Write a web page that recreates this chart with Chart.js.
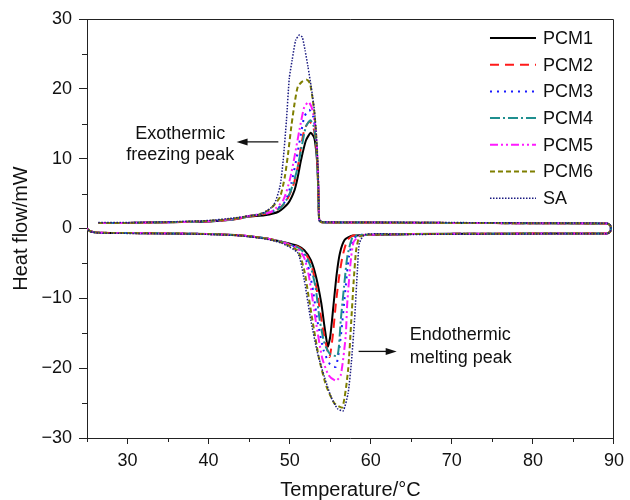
<!DOCTYPE html>
<html>
<head>
<meta charset="utf-8">
<title>DSC curves</title>
<script src="https://cdn.jsdelivr.net/npm/chart.js@4.4.1/dist/chart.umd.min.js"></script>
<style>
    body { margin: 0; background: #fff; }
    #wrap { width: 630px; height: 500px; }
</style>
</head>
<body>
<div id="wrap"><canvas id="myChart" width="630" height="500"></canvas></div>
<script>
// values: [temperature °C, heat flow mW]
var seriesNames = ['PCM1', 'PCM2', 'PCM3', 'PCM4', 'PCM5', 'PCM6', 'SA'];
var xTicks = [30, 40, 50, 60, 70, 80, 90];
var xMinorTicks = [25, 35, 45, 55, 65, 75, 85];
var yTicks = [-30, -20, -10, 0, 10, 20, 30];
var yMinorTicks = [-25, -15, -5, 5, 15, 25];

// cooling runs (upper curves, exothermic freezing peak)
var pcm1Cool = [[26.4, 0.8], [30, 0.8], [35, 0.9], [40, 1.0], [43, 1.3], [45, 1.7], [46.9, 1.9], [48.6, 2.4], [49.8, 3.6], [50.6, 5.5], [51.0, 7.4], [51.4, 9.8], [52.0, 12.6], [52.6, 13.7], [53.05, 12.9], [53.3, 10.7], [53.45, 8.3], [53.57, 3.6], [53.65, 1.2], [54.0, 0.9], [60, 0.85], [70, 0.8], [80, 0.75], [89.1, 0.7], [89.5, 0.5], [89.6, 0.2]];
var pcm2Cool = [[26.4, 0.8], [30, 0.8], [35, 0.9], [40, 1.0], [43, 1.3], [45, 1.7], [48.0, 2.4], [49.4, 3.6], [50.4, 6.0], [51.0, 8.8], [51.4, 11.7], [51.8, 14.1], [52.4, 15.3], [52.9, 14.6], [53.25, 12.0], [53.45, 8.3], [53.57, 3.6], [53.65, 1.2], [54.0, 0.9], [60, 0.85], [70, 0.8], [80, 0.75], [89.1, 0.7], [89.5, 0.5], [89.6, 0.2]];
var pcm3Cool = [[26.4, 0.8], [30, 0.8], [35, 0.9], [40, 1.05], [43, 1.35], [45, 1.8], [47.7, 2.3], [49.4, 3.8], [50.2, 6.45], [50.8, 9.8], [51.4, 13.6], [51.8, 16.0], [52.4, 17.0], [52.9, 16.0], [53.25, 13.0], [53.45, 8.3], [53.57, 3.6], [53.65, 1.2], [54.0, 0.9], [60, 0.85], [70, 0.8], [80, 0.75], [89.1, 0.7], [89.5, 0.5], [89.6, 0.2]];
var pcm4Cool = [[26.4, 0.8], [30, 0.8], [35, 0.9], [40, 1.0], [43, 1.3], [45, 1.75], [48.8, 2.9], [50.0, 5.0], [50.8, 7.9], [51.4, 11.2], [52.0, 14.6], [52.55, 15.5], [53.0, 14.5], [53.3, 11.5], [53.45, 8.3], [53.57, 3.6], [53.65, 1.2], [54.0, 0.9], [60, 0.85], [70, 0.8], [80, 0.75], [89.1, 0.7], [89.5, 0.5], [89.6, 0.2]];
var pcm5Cool = [[26.4, 0.8], [30, 0.8], [35, 0.9], [40, 1.05], [43, 1.35], [45, 1.8], [47.7, 2.4], [49.2, 4.05], [50.0, 6.9], [50.6, 10.3], [51.2, 14.1], [51.8, 17.4], [52.35, 18.1], [52.8, 17.0], [53.25, 13.6], [53.5, 8.3], [53.6, 3.6], [53.65, 1.2], [54.0, 0.9], [60, 0.85], [70, 0.8], [80, 0.75], [89.1, 0.7], [89.5, 0.5], [89.6, 0.2]];
var pcm6Cool = [[26.4, 0.8], [30, 0.8], [35, 0.9], [40, 1.1], [43, 1.4], [45, 1.8], [46.3, 2.0], [47.7, 2.9], [48.8, 4.5], [49.4, 7.4], [49.8, 10.7], [50.2, 14.6], [50.6, 17.9], [51.0, 20.3], [51.5, 21.0], [52.1, 21.3], [52.5, 20.8], [52.85, 18.4], [53.1, 16.0], [53.35, 11.7], [53.5, 7.0], [53.65, 1.2], [54.0, 0.9], [60, 0.85], [70, 0.8], [80, 0.75], [89.1, 0.7], [89.5, 0.5], [89.6, 0.2]];
var saCool = [[26.4, 0.85], [30, 0.85], [35, 0.95], [40, 1.15], [43, 1.5], [45, 1.8], [46.5, 2.1], [48.0, 3.3], [48.8, 6.0], [49.2, 9.8], [49.6, 15.5], [49.95, 21.5], [50.3, 24.1], [50.75, 27.0], [51.2, 27.7], [51.55, 27.4], [51.9, 25.5], [52.25, 23.2], [52.65, 20.3], [53.05, 16.9], [53.3, 13.1], [53.5, 8.3], [53.6, 2.9], [53.65, 1.2], [54.0, 0.95], [60, 0.9], [70, 0.85], [80, 0.8], [89.1, 0.75], [89.5, 0.55], [89.6, 0.2]];

// heating runs (lower curves, endothermic melting peak)
var pcm1Heat = [[25.0, 0.0], [25.4, -0.4], [26.5, -0.6], [30, -0.65], [35, -0.7], [40, -0.8], [44, -1.0], [47, -1.4], [49, -1.9], [51.0, -2.5], [51.8, -3.1], [52.6, -4.5], [53.25, -6.9], [53.9, -10.7], [54.3, -14.1], [54.7, -16.9], [55.0, -15.5], [55.4, -11.0], [55.8, -6.5], [56.2, -3.5], [56.8, -1.6], [57.8, -1.0], [65, -0.8], [75, -0.75], [85, -0.7], [89.1, -0.7], [89.5, -0.5], [89.6, -0.2]];
var pcm2Heat = [[25.0, 0.0], [25.4, -0.4], [26.5, -0.6], [30, -0.65], [35, -0.7], [40, -0.8], [44, -1.0], [47, -1.4], [49, -1.9], [51.0, -2.6], [51.8, -3.3], [52.6, -5.0], [53.2, -7.8], [53.7, -11.5], [54.2, -15.0], [54.9, -18.4], [55.3, -15.5], [55.7, -10.7], [56.1, -6.9], [56.5, -4.1], [57.1, -1.7], [57.9, -1.0], [65, -0.8], [75, -0.75], [85, -0.7], [89.1, -0.7], [89.5, -0.5], [89.6, -0.2]];
var pcm3Heat = [[25.0, 0.0], [25.4, -0.4], [26.5, -0.6], [30, -0.65], [35, -0.7], [40, -0.8], [44, -1.0], [47, -1.4], [49, -1.9], [51.0, -2.8], [51.8, -3.8], [52.4, -6.0], [52.9, -9.0], [53.4, -13.1], [54.2, -17.5], [55.0, -19.5], [55.7, -19.8], [56.3, -15.5], [56.9, -8.4], [57.3, -4.1], [57.9, -1.4], [58.8, -0.9], [65, -0.8], [75, -0.75], [85, -0.7], [89.1, -0.7], [89.5, -0.5], [89.6, -0.2]];
var pcm4Heat = [[25.0, 0.0], [25.4, -0.4], [26.5, -0.6], [30, -0.65], [35, -0.7], [40, -0.8], [44, -1.0], [47, -1.4], [49, -1.9], [51.0, -2.7], [51.8, -3.5], [52.6, -5.5], [53.2, -8.5], [53.7, -13.1], [54.3, -16.5], [55.0, -18.0], [55.9, -18.2], [56.3, -13.1], [56.7, -8.4], [57.1, -4.1], [57.7, -1.4], [58.5, -0.95], [65, -0.8], [75, -0.75], [85, -0.7], [89.1, -0.7], [89.5, -0.5], [89.6, -0.2]];
var pcm5Heat = [[25.0, 0.0], [25.4, -0.4], [26.5, -0.6], [30, -0.65], [35, -0.7], [40, -0.8], [44, -1.0], [47, -1.4], [49, -1.9], [51.0, -2.9], [51.8, -4.2], [52.4, -7.0], [53.2, -13.1], [54.0, -18.5], [54.8, -21.0], [55.7, -21.8], [56.3, -21.0], [56.9, -15.5], [57.1, -10.7], [57.5, -5.0], [57.9, -1.9], [58.8, -1.0], [65, -0.8], [75, -0.75], [85, -0.7], [89.1, -0.7], [89.5, -0.5], [89.6, -0.2]];
var pcm6Heat = [[25.0, 0.0], [25.4, -0.4], [26.5, -0.6], [30, -0.65], [35, -0.7], [40, -0.8], [44, -1.0], [47, -1.4], [49, -2.0], [51.0, -3.2], [51.8, -6.0], [52.3, -9.5], [52.8, -13.1], [53.6, -18.5], [54.5, -22.5], [55.5, -25.0], [56.5, -25.6], [57.2, -20.3], [57.6, -13.1], [57.9, -7.4], [58.2, -3.1], [58.6, -1.2], [59.5, -0.9], [65, -0.8], [75, -0.75], [85, -0.7], [89.1, -0.7], [89.5, -0.5], [89.6, -0.2]];
var saHeat = [[25.0, 0.0], [25.4, -0.45], [26.5, -0.65], [30, -0.7], [35, -0.75], [40, -0.85], [44, -1.05], [47, -1.5], [49, -2.1], [51.0, -3.5], [51.8, -7.4], [52.6, -13.1], [53.45, -17.9], [54.3, -21.3], [55.1, -24.1], [55.9, -25.8], [56.6, -26.1], [57.2, -23.6], [57.6, -19.3], [58.0, -13.1], [58.35, -6.0], [58.6, -2.1], [59.3, -0.85], [65, -0.85], [75, -0.8], [85, -0.75], [89.1, -0.75], [89.5, -0.55], [89.6, -0.2]];

var coolRuns = [pcm1Cool, pcm2Cool, pcm3Cool, pcm4Cool, pcm5Cool, pcm6Cool, saCool];
var heatRuns = [pcm1Heat, pcm2Heat, pcm3Heat, pcm4Heat, pcm5Heat, pcm6Heat, saHeat];

var lineStyles = [
    { color: '#000000', dash: [], width: 2 },
    { color: '#ff1a1a', dash: [9, 6], width: 2 },
    { color: '#1a1aff', dash: [2, 5], width: 2 },
    { color: '#1f8f8f', dash: [10, 3, 2, 3], width: 2 },
    { color: '#ff1aff', dash: [8, 3, 2, 3, 2, 3], width: 2 },
    { color: '#7f7f00', dash: [5, 3], width: 2 },
    { color: '#1a1a80', dash: [1.5, 1.5], width: 1.5 }
];

var FONT = '"Liberation Sans", Arial, Helvetica, sans-serif';

// one loop per sample: cooling curve left to right, then heating curve back
function toPoints(cool, heat) {
    var pts = cool.map(function (p) { return { x: p[0], y: p[1] }; });
    heat.slice().reverse().forEach(function (p) { pts.push({ x: p[0], y: p[1] }); });
    return pts;
}

var datasets = seriesNames.map(function (name, i) {
    return {
        label: name,
        data: toPoints(coolRuns[i], heatRuns[i]),
        borderColor: lineStyles[i].color,
        borderDash: lineStyles[i].dash,
        borderWidth: lineStyles[i].width,
        pointRadius: 0,
        tension: 0.2,
        fill: false,
        order: seriesNames.length - 1 - i   // SA ends up on top
    };
});

// frame, minor ticks, legend and the two arrow notes
var extrasPlugin = {
    id: 'extras',
    afterDraw: function (chart) {
        var ctx = chart.ctx;
        var a = chart.chartArea;
        var xs = chart.scales.x, ys = chart.scales.y;
        ctx.save();
        ctx.strokeStyle = '#222';
        ctx.lineWidth = 1;
        ctx.beginPath();
        ctx.moveTo(a.left, a.top + 0.5);
        ctx.lineTo(a.right - 0.5, a.top + 0.5);
        ctx.lineTo(a.right - 0.5, a.bottom);
        xMinorTicks.forEach(function (v) {
            var px = Math.round(xs.getPixelForValue(v)) + 0.5;
            ctx.moveTo(px, a.bottom);
            ctx.lineTo(px, a.bottom + 4);
        });
        yMinorTicks.forEach(function (v) {
            var py = Math.round(ys.getPixelForValue(v)) + 0.5;
            ctx.moveTo(a.left, py);
            ctx.lineTo(a.left - 5, py);
        });
        ctx.stroke();

        // legend, sitting inside the plot at the top right
        ctx.font = '18px ' + FONT;
        ctx.textBaseline = 'middle';
        ctx.textAlign = 'left';
        chart.data.datasets.forEach(function (ds, i) {
            var y = 38 + i * 26.7;
            ctx.strokeStyle = ds.borderColor;
            ctx.lineWidth = ds.borderWidth;
            ctx.setLineDash(ds.borderDash);
            ctx.beginPath();
            ctx.moveTo(a.right - 124, y);
            ctx.lineTo(a.right - 78, y);
            ctx.stroke();
            ctx.setLineDash([]);
            ctx.fillStyle = '#111';
            ctx.fillText(ds.label, a.right - 71, y + 1);
        });

        // notes
        ctx.fillStyle = '#111';
        ctx.textBaseline = 'alphabetic';
        ctx.textAlign = 'center';
        ctx.fillText('Exothermic', xs.getPixelForValue(36.5), ys.getPixelForValue(12.8));
        ctx.fillText('freezing peak', xs.getPixelForValue(36.5), ys.getPixelForValue(9.8));
        ctx.textAlign = 'left';
        ctx.fillText('Endothermic', xs.getPixelForValue(64.8), ys.getPixelForValue(-16.0));
        ctx.fillText('melting peak', xs.getPixelForValue(64.8), ys.getPixelForValue(-19.3));

        drawArrow(ctx, xs.getPixelForValue(48.6), xs.getPixelForValue(43.45), ys.getPixelForValue(12.4));
        drawArrow(ctx, xs.getPixelForValue(58.5), xs.getPixelForValue(63.2), ys.getPixelForValue(-17.6));
        ctx.restore();
    }
};

function drawArrow(ctx, x0, x1, y) {
    var dir = x1 > x0 ? 1 : -1;
    ctx.strokeStyle = '#111';
    ctx.fillStyle = '#111';
    ctx.lineWidth = 1.3;
    ctx.beginPath();
    ctx.moveTo(x0, y);
    ctx.lineTo(x1 - dir * 8, y);
    ctx.stroke();
    ctx.beginPath();
    ctx.moveTo(x1, y);
    ctx.lineTo(x1 - dir * 11, y - 3.5);
    ctx.lineTo(x1 - dir * 11, y + 3.5);
    ctx.closePath();
    ctx.fill();
}

var ctx = document.getElementById('myChart').getContext('2d');
var myChart = new Chart(ctx, {
    type: 'line',
    data: { datasets: datasets },
    options: {
        responsive: false,
        animation: false,
        devicePixelRatio: 1,
        layout: { padding: { top: 19, right: 11, left: 0, bottom: 0 } },
        plugins: {
            legend: { display: false },
            tooltip: { enabled: false }
        },
        scales: {
            x: {
                type: 'linear',
                min: 25,
                max: 90,
                afterBuildTicks: function (scale) {
                    scale.ticks = xTicks.map(function (v) { return { value: v }; });
                },
                afterFit: function (scale) { scale.height = 62; },
                ticks: { font: { family: FONT, size: 18 }, color: '#111', padding: 6, maxRotation: 0, autoSkip: false },
                grid: { drawOnChartArea: false, tickLength: 6, color: '#222', lineWidth: 1 },
                border: { color: '#222', width: 1 },
                title: {
                    display: true,
                    text: 'Temperature/°C',
                    color: '#111',
                    font: { family: FONT, size: 20, lineHeight: 1 },
                    padding: { top: 0, bottom: 0 }
                }
            },
            y: {
                min: -30,
                max: 30,
                afterBuildTicks: function (scale) {
                    scale.ticks = yTicks.map(function (v) { return { value: v }; });
                },
                afterFit: function (scale) { scale.width = 87; },
                ticks: {
                    font: { family: FONT, size: 18 },
                    color: '#111',
                    padding: 7,
                    callback: function (v) { return v < 0 ? '\u2212' + Math.abs(v) : String(v); }
                },
                grid: { drawOnChartArea: false, tickLength: 8, color: '#222', lineWidth: 1 },
                border: { color: '#222', width: 1 },
                title: {
                    display: true,
                    text: 'Heat flow/mW',
                    color: '#111',
                    font: { family: FONT, size: 20, lineHeight: 1.2 },
                    padding: { top: 9, bottom: 0 }
                }
            }
        }
    },
    plugins: [extrasPlugin]
});
</script>
</body>
</html>
